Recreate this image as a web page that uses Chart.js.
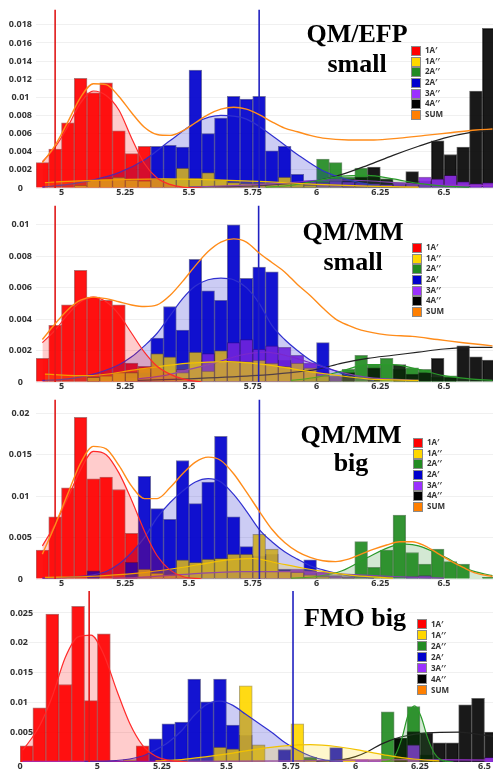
<!DOCTYPE html>
<html>
<head>
<meta charset="utf-8">
<script src="https://cdn.jsdelivr.net/npm/chart.js@4.4.1/dist/chart.umd.min.js"></script>
<style>
  html, body { margin: 0; padding: 0; background: #fff; }
  #page { position: relative; width: 493px; height: 770px; overflow: hidden; }
  .panel { position: absolute; left: 0; width: 493px; }
  .panel canvas { position: absolute; left: 0; top: 0; }
  .title { position: absolute; width: 220px; text-align: center; font-family: "Liberation Serif", "DejaVu Serif", serif;
           font-weight: bold; font-size: 26px; color: #000; white-space: nowrap; }
  .legend { position: absolute; font-family: "Open Sans", "DejaVu Sans", sans-serif; font-weight: bold; font-size: 8px; color: #333; }
  .legend .row { position: relative; height: 10.7px; line-height: 10.7px; padding-left: 14px; white-space: nowrap; }
  .legend .box { position: absolute; left: 0; top: 1px; width: 8px; height: 8px; border: 1px solid #8a8a8a; }
</style>
</head>
<body>
<div id="page"></div>
<script>
// ===== data =====
const SERIES = ['1A′', '1A′′', '2A′′', '2A′', '3A′′', '4A′′', 'SUM'];

// bin centres (0.05 eV bins)
const binsMM = [4.925,4.975,5.025,5.075,5.125,5.175,5.225,5.275,5.325,5.375,5.425,5.475,5.525,5.575,5.625,5.675,5.725,5.775,
  5.825,5.875,5.925,5.975,6.025,6.075,6.125,6.175,6.225,6.275,6.325,6.375,6.425,6.475,6.525,6.575,6.625,6.675];
const binsFMO = [4.725,4.775,4.825,4.875,4.925,4.975,5.025,5.075,5.125,5.175,5.225,5.275,5.325,5.375,5.425,5.475,5.525,5.575,
  5.625,5.675,5.725,5.775,5.825,5.875,5.925,5.975,6.025,6.075,6.125,6.175,6.225,6.275,6.325,6.375,6.425,6.475,6.525];

// QM/EFP small
const efpRed = [.0028,.0043,.0072,.0121,.0105,.0116,.0063,.0038,.0046,0,0,0,0,0,0,0,0,0,0,0,0,0,0,0,0,0,0,0,0,0,0,0,0,0,0,0];
const efpYellow = [0,0,0,.0003,.0009,.0010,.0012,.0009,.0008,.0010,.0010,.0022,.0011,.0017,.0009,.0006,.0005,.0005,.0004,.0012,.0005,.0003,0,0,0,0,0,0,0,0,0,0,0,0,0,0];
const efpGreen = [0,0,0,0,0,0,0,0,0,0,0,0,0,0,0,0,0,0,0,0,.0004,.0006,.0032,.0028,.0012,.0022,.0012,.0008,.0003,0,0,0,0,0,0,0];
const efpBlue = [0,0,0,0,0,0,0,0,0,.0046,.0047,.0045,.0130,.0060,.0077,.0101,.0098,.0101,.0041,.0046,.0015,.0008,0,0,0,0,0,0,0,0,0,0,0,0,0,0];
const efpPurple = [0,0,0,0,0,0,0,0,0,0,0,0,0,0,.0003,.0004,.0003,0,0,.0004,.0006,.0008,.0006,.0008,.0007,.0006,.0005,.0004,.0006,.0005,.0012,.0010,.0014,.0007,.0005,.0006];
const efpBlack = [0,0,0,0,0,0,0,0,0,0,0,0,0,0,0,0,0,0,0,0,0,0,0,0,.0010,.0012,.0023,.0010,.0005,.0018,.0008,.0052,.0037,.0045,.0107,.0176];
const efpRedFit = [[4.925,.0029],[4.975,.0045],[5.025,.0068],[5.075,.0094],[5.125,.0107],[5.175,.0102],[5.225,.0086],[5.275,.0055],[5.325,.0027],[5.375,.0011],[5.425,.0004],[5.475,.0001],[5.55,0]];
const efpYellowFit = [[4.935,.0006],[5.0,.0007],[5.2,.0009],[5.4,.0010],[5.6,.0009],[5.8,.0007],[6.0,.0004],[6.2,.0002],[6.4,.0001]];
const efpGreenFit = [[5.8,.0001],[5.9,.0003],[6.0,.0008],[6.1,.0013],[6.2,.0014],[6.3,.0010],[6.4,.0005],[6.5,.0002],[6.6,.0001]];
const efpBlueFit = [[4.925,.0001],[5.025,.0004],[5.125,.0009],[5.225,.0017],[5.325,.0031],[5.425,.0052],[5.525,.0072],[5.625,.0080],[5.725,.0076],[5.825,.0058],[5.925,.0037],[6.025,.0019],[6.125,.0009],[6.225,.0003],[6.325,.0001]];
const efpPurpleFit = [[5.5,.0001],[5.7,.0003],[5.9,.0006],[6.05,.0009],[6.2,.0008],[6.35,.0005],[6.5,.0003],[6.69,.0003]];
const efpBlackFit = [[5.5,.0001],[5.8,.0003],[6.0,.0008],[6.1,.0015],[6.2,.0025],[6.3,.0036],[6.4,.0046],[6.5,.0055],[6.6,.0061],[6.69,.0064]];
const efpSum = [[4.925,.0028],[4.975,.0047],[5.025,.0073],[5.075,.0100],[5.125,.0115],[5.175,.0114],[5.225,.0101],[5.275,.0083],[5.325,.0067],[5.375,.0059],
  [5.425,.0058],[5.475,.0063],[5.525,.0072],[5.575,.0081],[5.625,.0087],[5.675,.0089],[5.725,.0087],[5.775,.0081],[5.825,.0073],[5.875,.0066],[5.925,.0062],
  [5.975,.0058],[6.025,.0055],[6.125,.0053],[6.225,.0053],[6.325,.0055],[6.425,.0058],[6.525,.0061],[6.625,.0064],[6.69,.0065]];
const efpMarkers = [4.975, 5.775];

// QM/MM small
const mmsRed = [.0015,.0036,.0049,.0071,.0054,.0052,.0049,.0012,.0010,0,0,0,0,0,0,0,0,0,0,0,0,0,0,0,0,0,0,0,0,0,0,0,0,0,0,0];
const mmsYellow = [0,0,0,0,.0003,.0004,.0006,.0006,.0009,.0018,.0016,.0006,.0019,.0007,.0020,.0013,.0013,.0014,.0012,.0010,.0012,.0009,.0004,0,0,0,0,0,0,0,0,0,0,0,0,0];
const mmsGreen = [0,0,0,0,0,0,0,0,0,0,0,0,0,0,0,0,0,0,0,0,0,0,0,.0003,.0008,.0017,.0011,.0015,.0008,.0009,.0008,.0003,.0004,0,0,0];
const mmsBlue = [0,0,0,0,.0003,0,0,.0006,.0006,.0028,.0048,.0033,.0078,.0058,.0052,.0100,.0066,.0073,.0070,.0014,.0008,.0006,.0025,0,0,0,0,0,0,0,0,0,0,0,0,0];
const mmsPurple = [0,0,0,0,0,0,0,.0003,.0004,.0004,.0006,.0008,.0014,.0018,.0018,.0025,.0027,.0021,.0023,.0022,.0017,.0012,.0006,.0004,0,0,0,0,0,0,0,0,0,0,0,0];
const mmsBlack = [0,0,0,0,0,0,0,0,0,0,0,0,0,0,0,0,0,0,0,0,0,0,.0003,0,.0006,0,.0009,0,.0011,.0005,.0006,.0015,.0003,.0023,.0016,.0014];
const mmsRedFit = [[4.925,.0025],[4.975,.0033],[5.025,.0043],[5.075,.0051],[5.125,.0054],[5.175,.0051],[5.225,.0043],[5.275,.0031],[5.325,.0019],[5.375,.0010],[5.425,.0005],[5.475,.0002],[5.55,0]];
const mmsYellowFit = [[4.935,.0005],[5.1,.0004],[5.3,.0008],[5.5,.0012],[5.65,.0013],[5.8,.0011],[6.0,.0006],[6.2,.0002],[6.4,.0001]];
const mmsGreenFit = [[5.9,.0001],[6.0,.0003],[6.1,.0007],[6.2,.0011],[6.3,.0011],[6.4,.0008],[6.5,.0004],[6.6,.0002],[6.69,.0001]];
const mmsBlueFit = [[4.925,.0001],[5.025,.0002],[5.125,.0005],[5.225,.0011],[5.275,.0016],[5.325,.0023],[5.375,.0031],[5.425,.0042],[5.475,.0053],[5.525,.0061],
  [5.575,.0065],[5.625,.0066],[5.675,.0065],[5.725,.0060],[5.775,.0050],[5.825,.0036],[5.875,.0027],[5.925,.0020],[5.975,.0014],[6.025,.0010],[6.075,.0007],[6.125,.0004],[6.225,.0001]];
const mmsPurpleFit = [[5.3,.0002],[5.4,.0004],[5.5,.0008],[5.6,.0012],[5.7,.0017],[5.8,.0019],[5.9,.0016],[6.0,.0011],[6.1,.0006],[6.2,.0003],[6.4,.0001]];
const mmsBlackFit = [[5.3,.0001],[5.5,.0002],[5.75,.0004],[5.9,.0006],[6.0,.0008],[6.1,.0012],[6.2,.0015],[6.3,.0017],[6.4,.0019],[6.5,.0021],[6.6,.0022],[6.69,.0022]];
const mmsSum = [[4.925,.0027],[4.975,.0037],[5.025,.0046],[5.075,.0052],[5.125,.0054],[5.175,.0053],[5.225,.0051],[5.275,.0049],[5.325,.0048],[5.375,.0049],
  [5.425,.0055],[5.475,.0064],[5.525,.0074],[5.575,.0083],[5.625,.0089],[5.675,.0091],[5.725,.0089],[5.775,.0082],[5.825,.0076],[5.875,.0070],[5.925,.0062],
  [5.975,.0055],[6.025,.0047],[6.075,.0040],[6.125,.0036],[6.175,.0033],[6.275,.0030],[6.375,.0029],[6.475,.0027],[6.575,.0025],[6.69,.0023]];
const mmsMarkers = [4.975, 5.773];

// QM/MM big
const mmbRed = [.0035,.0075,.0110,.0195,.0121,.0123,.0108,.0055,0,0,0,0,0,0,0,0,0,0,0,0,0,0,0,0,0,0,0,0,0,0,0,0,0,0,0,0];
const mmbYellow = [0,0,0,0,0,0,0,0,.0012,.0007,.0005,.0023,.0020,.0024,.0025,.0030,.0030,.0054,.0036,.0010,.0008,.0005,.0003,0,0,0,0,0,0,0,0,0,0,0,0,0];
const mmbGreen = [0,0,0,0,0,0,0,0,0,0,0,0,0,0,0,0,0,0,0,0,0,0,0,0,.0002,.0045,.0014,.0035,.0077,.0032,.0018,.0036,.0021,.0018,0,.0002];
const mmbBlue = [0,0,0,0,.0010,0,0,.0020,.0124,.0085,.0072,.0143,.0091,.0117,.0172,.0075,.0039,.0028,.0030,.0012,.0010,.0023,0,0,0,0,0,0,0,0,0,0,0,0,0,0];
const mmbPurple = [0,0,0,0,0,0,0,0,0,0,0,0,0,0,0,0,.0006,.0008,.0008,.0010,.0012,.0010,.0008,.0004,.0003,0,0,0,0,.0003,.0004,0,0,0,0,0];
const mmbBlack = [0,0,0,0,0,0,0,0,0,0,0,0,0,0,0,0,0,0,0,0,0,0,0,0,0,0,0,0,0,0,0,0,0,0,0,0];
const mmbRedFit = [[4.925,.0040],[4.975,.0066],[5.025,.0098],[5.075,.0132],[5.125,.0154],[5.175,.0150],[5.225,.0128],[5.275,.0095],[5.325,.0058],[5.375,.0028],[5.425,.0011],[5.475,.0003],[5.55,0]];
const mmbYellowFit = [[4.935,.0002],[5.1,.0003],[5.3,.0007],[5.45,.0013],[5.55,.0018],[5.65,.0023],[5.75,.0025],[5.85,.0019],[5.95,.0013],[6.05,.0008],[6.15,.0004],[6.3,.0001]];
const mmbGreenFit = [[5.9,.0001],[6.0,.0003],[6.1,.0010],[6.2,.0026],[6.3,.0040],[6.35,.0042],[6.4,.0040],[6.5,.0027],[6.6,.0011],[6.69,.0004]];
const mmbBlueFit = [[4.925,.0001],[5.025,.0002],[5.125,.0005],[5.175,.0009],[5.225,.0018],[5.275,.0032],[5.325,.0050],[5.375,.0074],[5.425,.0092],[5.475,.0106],
  [5.525,.0117],[5.575,.0121],[5.625,.0117],[5.675,.0102],[5.725,.0082],[5.775,.0060],[5.825,.0045],[5.875,.0033],[5.925,.0024],[5.975,.0016],[6.025,.0011],[6.075,.0007],[6.125,.0004],[6.225,.0001]];
const mmbPurpleFit = [[5.2,.0001],[5.3,.0002],[5.5,.0006],[5.7,.0009],[5.9,.0009],[6.1,.0006],[6.3,.0003],[6.5,.0001]];
const mmbBlackFit = [];
const mmbSum = [[4.925,.0030],[4.975,.0065],[5.025,.0103],[5.075,.0140],[5.125,.0160],[5.175,.0157],[5.225,.0137],[5.275,.0112],[5.325,.0097],[5.375,.0097],
  [5.425,.0110],[5.475,.0127],[5.525,.0141],[5.575,.0147],[5.625,.0143],[5.675,.0127],[5.725,.0105],[5.775,.0082],[5.825,.0060],[5.875,.0044],[5.925,.0033],
  [5.975,.0026],[6.025,.0022],[6.075,.0021],[6.125,.0024],[6.175,.0030],[6.225,.0036],[6.275,.0041],[6.325,.0045],[6.375,.0045],[6.425,.0040],[6.475,.0031],
  [6.525,.0022],[6.575,.0014],[6.625,.0007],[6.69,.0003]];
const mmbMarkers = [4.975, 5.776];

// FMO big
const fmoRed = [.0027,.0091,.0248,.0130,.0261,.0103,.0215,0,0,.0027,0,0,0,0,0,0,0,0,0,0,0,0,0,0,0,0,0,0,0,0,0,0,0,0,0,0,0];
const fmoYellow = [0,0,0,0,0,0,0,0,.0004,0,0,0,.0002,0,0,.0025,.0022,.0128,.0029,0,0,.0064,.0004,.0003,0,.0005,0,0,0,0,0,0,0,0,0,0,0];
const fmoGreen = [0,0,0,0,0,0,0,0,0,0,0,0,0,0,0,0,0,0,0,0,0,0,.0008,0,0,0,0,0,.0084,.0040,.0093,.0012,0,0,0,0,0];
const fmoBlue = [0,0,0,0,0,0,0,0,0,0,.0039,.0064,.0067,.0139,.0101,.0139,.0062,.0045,0,0,.0021,0,0,0,.0024,0,0,0,0,0,0,0,0,0,0,0,0];
const fmoPurple = [0,0,0,0,0,0,0,0,0,0,0,0,0,0,0,0,0,0,0,0,0,0,0,0,.0002,0,.0004,.0003,0,0,.0029,0,0,0,0,0,.0008];
const fmoBlack = [0,0,0,0,0,0,0,0,0,0,0,0,0,0,0,0,0,0,0,0,0,0,0,0,0,0,0,0,0,.0040,.0051,.0049,.0032,.0032,.0096,.0107,.0050];
const fmoRedFit = [[4.71,.0020],[4.725,.0028],[4.775,.0060],[4.825,.0110],[4.875,.0175],[4.925,.0210],[4.975,.0213],[5.025,.0180],[5.075,.0120],[5.125,.0065],[5.175,.0028],[5.225,.0010],[5.275,.0003],[5.35,0]];
const fmoYellowFit = [[5.225,.0002],[5.325,.0004],[5.425,.0009],[5.525,.0015],[5.625,.0022],[5.725,.0027],[5.825,.0029],[5.925,.0026],[6.025,.0019],[6.125,.0011],[6.225,.0005],[6.325,.0002]];
const fmoGreenFit = [[6.1,0],[6.13,.0002],[6.155,.0012],[6.18,.0040],[6.205,.0080],[6.23,.0094],[6.255,.0075],[6.28,.0040],[6.305,.0015],[6.33,.0004],[6.38,0]];
const fmoBlueFit = [[4.95,.0001],[5.05,.0002],[5.125,.0005],[5.175,.0010],[5.225,.0020],[5.275,.0033],[5.325,.0052],[5.375,.0078],[5.425,.0097],[5.475,.0102],
  [5.525,.0095],[5.575,.0080],[5.625,.0065],[5.675,.0050],[5.725,.0033],[5.775,.0020],[5.825,.0010],[5.875,.0004],[5.95,.0001]];
const fmoPurpleFit = [[4.71,.0001],[5.3,.0001],[5.8,.0002],[6.2,.0004],[6.53,.0003]];
const fmoBlackFit = [[5.85,.0001],[5.95,.0004],[6.0,.0009],[6.05,.0018],[6.1,.0030],[6.175,.0042],[6.275,.0049],[6.4,.0050],[6.5,.0045],[6.535,.0043]];
const fmoSum = [];
const fmoMarkers = [4.968, 5.758];

// tick labels
const xTicksMM = [5, 5.25, 5.5, 5.75, 6, 6.25, 6.5];
const xLabelsMM = ['5', '5.25', '5.5', '5.75', '6', '6.25', '6.5'];
const xTicksFMO = [4.7, 5, 5.25, 5.5, 5.75, 6, 6.25, 6.5];
const xLabelsFMO = ['0', '5', '5.25', '5.5', '5.75', '6', '6.25', '6.5'];
const yTicksEFP = [0, 0.002, 0.004, 0.006, 0.008, 0.01, 0.012, 0.014, 0.016, 0.018];
const yTicksMMS = [0, 0.002, 0.004, 0.006, 0.008, 0.01];
const yTicksMMB = [0, 0.005, 0.01, 0.015, 0.02];
const yTicksFMO = [0.005, 0.01, 0.015, 0.02, 0.025];

// ===== styling =====
const BAR = ['rgba(255,0,0,0.92)', 'rgba(255,215,0,0.92)', 'rgba(34,139,34,0.92)', 'rgba(0,0,205,0.92)', 'rgba(138,43,226,0.92)', 'rgba(0,0,0,0.9)'];
const EDGE = ['rgba(120,0,0,0.55)', 'rgba(120,100,0,0.55)', 'rgba(0,60,0,0.55)', 'rgba(0,0,90,0.55)', 'rgba(60,0,100,0.55)', 'rgba(0,0,0,0.6)'];
const LINE = ['#ff2a2a', '#f2c200', '#2a9a2a', '#3030d0', '#9932cc', '#222222', '#ff8c1a'];
const FILL = ['rgba(255,0,0,0.2)', 'rgba(255,215,0,0.2)', 'rgba(34,139,34,0.2)', 'rgba(0,0,200,0.2)', 'rgba(138,43,226,0.15)', null, null];
const KEY = ['#ff0000', '#ffd700', '#228b22', '#0000cd', '#9b30ff', '#000000', '#ff7f00'];
const MARK = ['#e01818', '#2020c0'];
// bar stacking order on screen: lower = drawn on top
const BAR_ORDER = [15, 10, 13, 14, 11, 12];
const TICK_FONT = { family: 'Open Sans', size: 9, weight: 'bold' };

const pts = arr => arr.map(([x, y]) => ({ x, y }));

function barSet(bins, vals, i) {
  return {
    type: 'bar', label: SERIES[i],
    data: bins.map((x, k) => ({ x, y: vals[k] })).filter(p => p.y > 0),
    backgroundColor: BAR[i], borderColor: EDGE[i], borderWidth: 1,
    grouped: false, barPercentage: 1, categoryPercentage: 1, order: BAR_ORDER[i]
  };
}

function fitSet(points, i) {
  return {
    type: 'line', label: SERIES[i] + ' fit', data: pts(points),
    borderColor: LINE[i], backgroundColor: FILL[i] || 'transparent', fill: FILL[i] ? 'origin' : false,
    borderWidth: i === 6 ? 1.4 : 1.2, pointRadius: 0, cubicInterpolationMode: 'monotone', order: i === 6 ? 0 : 2
  };
}

function markerSet(x, yMax, i) {
  return {
    type: 'line', data: [{ x, y: 0 }, { x, y: yMax }],
    borderColor: MARK[i], borderWidth: 1.6, pointRadius: 0, fill: false, order: 1
  };
}

function makePanel(p) {
  const page = document.getElementById('page');
  const div = document.createElement('div');
  div.className = 'panel';
  div.style.top = p.top + 'px';
  div.style.height = p.height + 'px';
  const canvas = document.createElement('canvas');
  canvas.width = 493; canvas.height = p.height;
  div.appendChild(canvas);
  page.appendChild(div);

  const datasets = [];
  p.bars.forEach((vals, i) => datasets.push(barSet(p.bins, vals, i)));
  p.fits.forEach((f, i) => { if (f.length) datasets.push(fitSet(f, i)); });
  p.markers.forEach((x, i) => datasets.push(markerSet(x, p.yMax, i)));

  new Chart(canvas.getContext('2d'), {
    type: 'bar',
    data: { datasets },
    options: {
      responsive: false,
      animation: false,
      layout: { padding: { top: p.padTop, left: 0, right: 0, bottom: 0 } },
      plugins: { legend: { display: false }, tooltip: { enabled: false } },
      scales: {
        x: {
          type: 'linear', min: p.xMin, max: p.xMax, offset: false,
          grid: { display: false, drawTicks: false }, border: { display: false },
          afterBuildTicks: s => { s.ticks = p.xTicks.map(v => ({ value: v })); },
          afterFit: s => { s.height = p.axisH; },
          ticks: { autoSkip: false, maxRotation: 0, padding: -1, color: '#333', font: TICK_FONT,
                   callback: (v, k) => p.xLabels[k] }
        },
        y: {
          min: 0, max: p.yMax,
          grid: { color: '#f0f0f0', drawTicks: false }, border: { display: false },
          afterBuildTicks: s => { s.ticks = p.yTicks.map(v => ({ value: v })); },
          afterFit: s => { s.width = p.axisW; },
          ticks: { padding: p.yPad, mirror: !!p.yMirror, crossAlign: p.yMirror ? 'near' : 'center',
                   color: '#333', font: TICK_FONT, callback: v => String(v) }
        }
      }
    }
  });

  // title
  const t = document.createElement('div');
  t.className = 'title';
  t.style.left = (p.titleX - 110) + 'px';
  t.style.top = p.titleY + 'px';
  t.style.lineHeight = p.titleLH + 'px';
  t.innerHTML = p.title.join('<br>');
  page.appendChild(t);

  // legend
  const lg = document.createElement('div');
  lg.className = 'legend';
  lg.style.left = p.legX + 'px';
  lg.style.top = p.legY + 'px';
  SERIES.forEach((name, i) => {
    const row = document.createElement('div');
    row.className = 'row';
    row.style.height = row.style.lineHeight = p.legRow + 'px';
    row.innerHTML = '<span class="box" style="background:' + KEY[i] + '"></span>' + name;
    lg.appendChild(row);
  });
  page.appendChild(lg);
}

makePanel({
  top: 0, height: 202, padTop: 3, axisH: 14, axisW: 36, yPad: 4,
  bins: binsMM, xMin: 4.90, xMax: 6.692, xTicks: xTicksMM, xLabels: xLabelsMM,
  yMax: 0.0197, yTicks: yTicksEFP,
  bars: [efpRed, efpYellow, efpGreen, efpBlue, efpPurple, efpBlack],
  fits: [efpRedFit, efpYellowFit, efpGreenFit, efpBlueFit, efpPurpleFit, efpBlackFit, efpSum],
  markers: efpMarkers,
  title: ['QM/EFP', 'small'], titleX: 357, titleY: 19, titleLH: 30,
  legX: 411, legY: 45, legRow: 10.67
});

makePanel({
  top: 196, height: 200, padTop: 3, axisH: 14, axisW: 36, yPad: 4,
  bins: binsMM, xMin: 4.90, xMax: 6.692, xTicks: xTicksMM, xLabels: xLabelsMM,
  yMax: 0.01123, yTicks: yTicksMMS,
  bars: [mmsRed, mmsYellow, mmsGreen, mmsBlue, mmsPurple, mmsBlack],
  fits: [mmsRedFit, mmsYellowFit, mmsGreenFit, mmsBlueFit, mmsPurpleFit, mmsBlackFit, mmsSum],
  markers: mmsMarkers,
  title: ['QM/MM', 'small'], titleX: 353, titleY: 217, titleLH: 30,
  legX: 412, legY: 242, legRow: 10.67
});

makePanel({
  top: 390, height: 203, padTop: 7, axisH: 14, axisW: 36, yPad: 4,
  bins: binsMM, xMin: 4.90, xMax: 6.692, xTicks: xTicksMM, xLabels: xLabelsMM,
  yMax: 0.02167, yTicks: yTicksMMB,
  bars: [mmbRed, mmbYellow, mmbGreen, mmbBlue, mmbPurple, mmbBlack],
  fits: [mmbRedFit, mmbYellowFit, mmbGreenFit, mmbBlueFit, mmbPurpleFit, mmbBlackFit, mmbSum],
  markers: mmbMarkers,
  title: ['QM/MM', 'big'], titleX: 351, titleY: 421, titleLH: 28,
  legX: 413, legY: 437, legRow: 10.67
});

makePanel({
  top: 588, height: 182, padTop: 3, axisH: 8, axisW: 20, yPad: -10, yMirror: true,
  bins: binsFMO, xMin: 4.70, xMax: 6.533, xTicks: xTicksFMO, xLabels: xLabelsFMO,
  yMax: 0.02869, yTicks: yTicksFMO,
  bars: [fmoRed, fmoYellow, fmoGreen, fmoBlue, fmoPurple, fmoBlack],
  fits: [fmoRedFit, fmoYellowFit, fmoGreenFit, fmoBlueFit, fmoPurpleFit, fmoBlackFit, fmoSum],
  markers: fmoMarkers,
  title: ['FMO big'], titleX: 355, titleY: 603, titleLH: 30,
  legX: 417, legY: 618, legRow: 11
});
</script>
</body>
</html>
